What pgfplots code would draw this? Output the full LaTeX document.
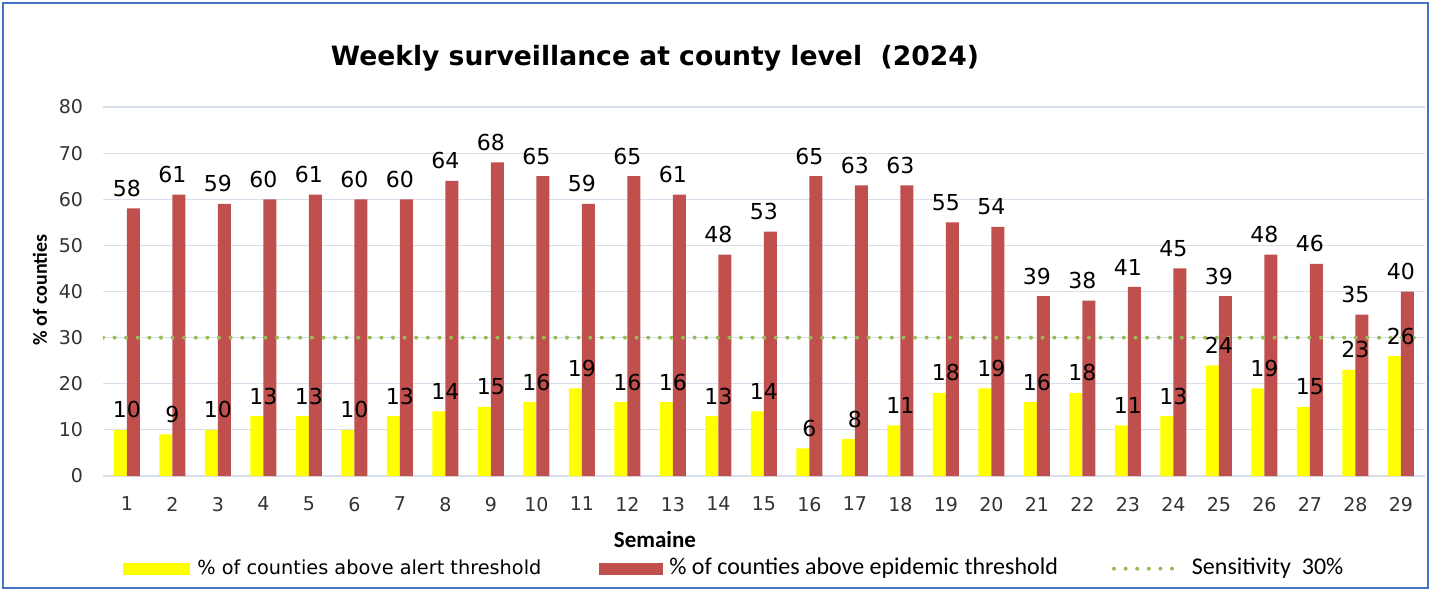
\documentclass[border=0pt]{standalone}
\usepackage{fontspec}
\setmainfont{DejaVu Sans}
\newfontfamily\calibri{Carlito}
\usepackage{pgfplots}
\pgfplotsset{compat=1.18}
\definecolor{barred}{HTML}{C0504D}
\definecolor{baryel}{HTML}{FFFF00}
\definecolor{sensgreen}{HTML}{9BBB59}
\definecolor{gridc}{HTML}{D6DFEB}
\definecolor{frame}{HTML}{4472C4}
\begin{document}
\begin{tikzpicture}
\useasboundingbox (0,0) rectangle (715pt,295pt);
\draw[frame, line width=1.2pt] (1.5pt,1pt) rectangle (714pt,293.5pt);
\begin{axis}[
  at={(51.5pt,57pt)}, anchor=south west,
  scale only axis, width=661pt, height=184.5pt,
  xmin=0.473, xmax=29.53, ymin=0, ymax=80,
  xtick={1,...,29}, ytick={0,10,...,80},
  axis line style={draw=none}, tick style={draw=none},
  ymajorgrids, grid style={gridc, line width=0.6pt},
  /pgf/number format/assume math mode=true,
  ticklabel style={font=\fontsize{9.5}{11}\selectfont, text=black!80},
  xticklabel style={yshift=-7pt},
  yticklabel style={xshift=-6.5pt},
  title={Weekly surveillance at county level\ \ (2024)},
  title style={font=\bfseries\fontsize{13.3}{15}\selectfont, at={(axis description cs:0.4175,1.10)}, anchor=center},
  xlabel={Semaine},
  xlabel style={font=\calibri\bfseries\fontsize{11.5}{13}\selectfont, at={(axis description cs:0.4175,-0.173)}, anchor=center},
  ylabel={\% of counties},
  ylabel style={font=\calibri\bfseries\fontsize{10}{12}\selectfont, at={(axis description cs:-0.0477,0.504)}, anchor=center},
  legend columns=3,
  legend style={draw=none, fill=none, at={(axis description cs:0.0151,-0.249)}, anchor=west,
    inner sep=0pt, column sep=0pt, nodes={inner sep=0pt, anchor=base west}},
  nodes near coords style={font=\fontsize{11}{12}\selectfont, text=black, anchor=south, yshift=2.3pt,
    /pgf/number format/precision=0},
]
\addplot[ybar, bar width=6.5pt, bar shift=-3.25pt, fill=baryel, draw=none, nodes near coords,
  legend image code/.code={\fill[baryel] (0pt,0pt) rectangle (33.5pt,6pt); \path (37pt,0pt);}]
coordinates {(1,10) (2,9) (3,10) (4,13) (5,13) (6,10) (7,13) (8,14) (9,15) (10,16)
 (11,19) (12,16) (13,16) (14,13) (15,14) (16,6) (17,8) (18,11) (19,18) (20,19)
 (21,16) (22,18) (23,11) (24,13) (25,24) (26,19) (27,15) (28,23) (29,26)};
\addlegendentry{\fontsize{9.65}{10}\selectfont \% of counties above alert threshold\hspace*{29pt}}
\addplot[ybar, bar width=6.5pt, bar shift=3.25pt, fill=barred, draw=none, nodes near coords,
  legend image code/.code={\fill[barred] (0pt,0pt) rectangle (32pt,6pt); \path (35pt,0pt);}]
coordinates {(1,58) (2,61) (3,59) (4,60) (5,61) (6,60) (7,60) (8,64) (9,68) (10,65)
 (11,59) (12,65) (13,61) (14,48) (15,53) (16,65) (17,63) (18,63) (19,55) (20,54)
 (21,39) (22,38) (23,41) (24,45) (25,39) (26,48) (27,46) (28,35) (29,40)};
\addlegendentry{\calibri\fontsize{12}{13}\selectfont \% of counties above epidemic threshold\hspace*{27pt}}
\addplot[sensgreen, line width=2pt, line cap=round, dash pattern=on 0pt off 5.8pt,
  legend image code/.code={\draw[sensgreen, line width=2pt, line cap=round, dash pattern=on 0pt off 5.8pt] (1pt,3pt) -- (34pt,3pt); \path (39pt,0pt);}]
coordinates {(0.473,30) (29.53,30)};
\addlegendentry{\calibri\fontsize{12}{13}\selectfont Sensitivity\ \ 30\%}
\end{axis}
\end{tikzpicture}
\end{document}
